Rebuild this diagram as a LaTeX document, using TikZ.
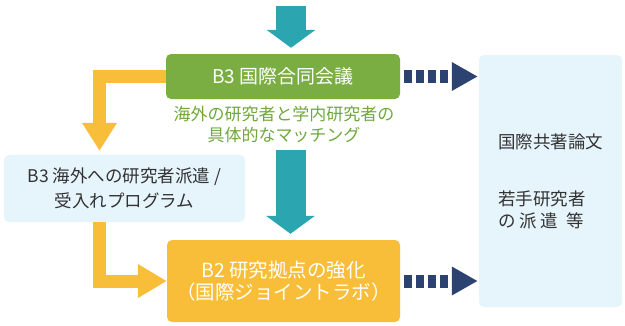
\documentclass[tikz,border=0pt]{standalone}
\usepackage{fontspec}
\setmainfont{Noto Sans CJK JP}
\usetikzlibrary{arrows.meta}
\definecolor{cTeal}{HTML}{2BA6B1}
\definecolor{cGreen}{HTML}{7AAE42}
\definecolor{cGreenTxt}{HTML}{6FA83A}
\definecolor{cYellow}{HTML}{F8BE3A}
\definecolor{cNavy}{HTML}{2C4270}
\definecolor{cLight}{HTML}{E6F4FC}
\definecolor{cDark}{HTML}{333333}
\begin{document}
\begin{tikzpicture}[x=1pt,y=-1pt,
  boxbase/.style={rounded corners=5pt, inner sep=0pt, align=center},
  gbox/.style={boxbase, fill=cGreen, text=white, font=\fontsize{19}{23}\selectfont},
  ybox/.style={boxbase, fill=cYellow, text=white, font=\fontsize{19.5}{22}\selectfont},
  lbox/.style={boxbase, fill=cLight, text=cDark, font=\fontsize{17.5}{25}\selectfont},
  rbox/.style={boxbase, fill=cLight, text=cDark, align=left, font=\fontsize{17.5}{22}\selectfont},
  gtext/.style={inner sep=0pt, align=center, text=cGreenTxt, font=\fontsize{17}{21}\selectfont},
  tealarrow/.style={draw=cTeal, line width=30pt, -{Triangle[length=18pt,width=48pt]}, shorten >=6pt},
  yarrow/.style={draw=cYellow, line width=13pt, line join=miter},
  navyarrow/.style={draw=cNavy, line width=13pt, dash pattern=on 8pt off 4pt,
    -{Triangle[length=26pt,width=27pt]}, shorten <=4pt, shorten >=1pt}
]
\useasboundingbox (0,0) rectangle (625,325);

\node[gbox, minimum width=234pt, minimum height=45pt] (green) at (283,76.5) {B3 国際合同会議};
\node[gtext] (match) at (284,124) {海外の研究者と学内研究者の\\具体的なマッチング};
\node[lbox, minimum width=241pt, minimum height=67pt] (left) at (124.5,188.5) {B3 海外への研究者派遣 /\\受入れプログラム};
\node[ybox, minimum width=233pt, minimum height=82pt] (yellow) at (283.5,281) {B2 研究拠点の強化\\（国際ジョイントラボ）};
\node[rbox, minimum width=143pt, minimum height=252pt] (right) at (550.5,181) {国際共著論文\\[35pt]若手研究者\\の 派 遣 \ 等};

\coordinate (t1) at (291,6);
\draw[tealarrow] (t1) -- (t1 |- green.north);
\coordinate (m1) at (290.5,150);
\draw[tealarrow] (m1) -- (m1 |- yellow.north);

\coordinate (y1) at (99.5,76.5);
\draw[yarrow, -{Triangle[length=28pt,width=33pt]}, shorten >=4pt] (green.west) -- (y1) -- (y1 |- left.north);
\coordinate (y2) at (99.5,281);
\draw[yarrow, -{Triangle[length=29pt,width=32pt]}] (y1 |- left.south) -- (y2) -- (yellow.west);

\draw[navyarrow] (green.east) -- (right.west |- green.east);
\draw[navyarrow] (yellow.east) -- (right.west |- yellow.east);
\end{tikzpicture}
\end{document}
